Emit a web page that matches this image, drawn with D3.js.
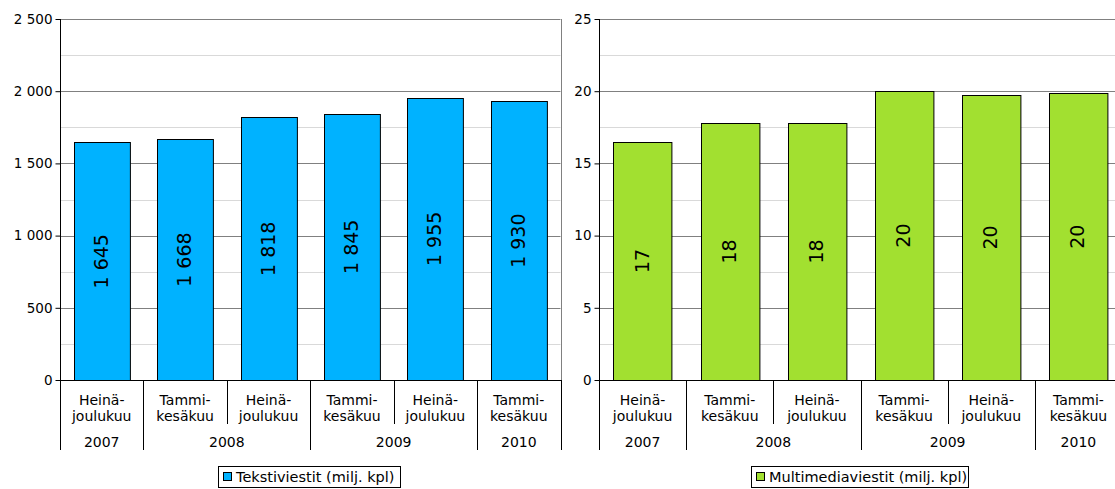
<!DOCTYPE html>
<html>
<head>
<meta charset="utf-8">
<script src="https://cdn.jsdelivr.net/npm/d3@7"></script>
<style>
  body { margin: 0; background: #fff; }
  svg { display: block; font-family: "DejaVu Sans", Verdana, sans-serif; }
</style>
</head>
<body>
<div id="chart"></div>
<script>
const width = 1115;
const height = 489;

// Data
const periods = ["Heinä-\njoulukuu", "Tammi-\nkesäkuu", "Heinä-\njoulukuu", "Tammi-\nkesäkuu", "Heinä-\njoulukuu", "Tammi-\nkesäkuu"];
const years = ["2007", "2008", "2008", "2009", "2009", "2010"];
const textMessages = [1645, 1668, 1818, 1845, 1955, 1930];
const mmsMessages = [16.5, 17.8, 17.8, 20.0, 19.75, 19.85];
const leftTicks = [0, 500, 1000, 1500, 2000, 2500];
const rightTicks = [0, 5, 10, 15, 20, 25];

const fi = d3.formatLocale({ decimal: ",", thousands: "\u00a0", grouping: [3], currency: ["", " €"] });
const fmtInt = fi.format(",.0f");

const svg = d3.select("#chart")
    .append("svg")
    .attr("width", width)
    .attr("height", height);

function panel(opts) {
    const { x0, x1, top, bottom, values, ticks, max, minorStep, color, legend, legendX, legendW } = opts;

    const g = svg.append("g");

    const x = d3.scaleBand()
        .domain(d3.range(values.length))
        .range([x0, x1])
        .paddingInner(0.33)
        .paddingOuter(0.165);
    const step = x.step();

    const y = d3.scaleLinear().domain([0, max]).range([bottom, top]);

    // minor gridlines
    g.append("g")
        .selectAll("line")
        .data(d3.range(minorStep, max, minorStep * 2))
        .join("line")
        .attr("x1", x0).attr("x2", x1)
        .attr("y1", d => Math.round(y(d)) + 0.5).attr("y2", d => Math.round(y(d)) + 0.5)
        .attr("stroke", "#d9d9d9");

    // major gridlines
    g.append("g")
        .selectAll("line")
        .data(ticks.filter(t => t > 0))
        .join("line")
        .attr("x1", x0).attr("x2", x1)
        .attr("y1", d => Math.round(y(d)) + 0.5).attr("y2", d => Math.round(y(d)) + 0.5)
        .attr("stroke", "#808080");

    // plot right border
    g.append("line")
        .attr("x1", Math.round(x1) + 0.5).attr("x2", Math.round(x1) + 0.5)
        .attr("y1", y(max)).attr("y2", bottom)
        .attr("stroke", "#808080");

    // bars
    g.append("g")
        .selectAll("rect")
        .data(values)
        .join("rect")
        .attr("x", (d, i) => Math.round(x(i)) + 0.5)
        .attr("y", d => Math.round(y(d)) + 0.5)
        .attr("width", x.bandwidth())
        .attr("height", d => bottom - Math.round(y(d)))
        .attr("fill", color)
        .attr("stroke", "#000")
        .attr("stroke-width", 1);

    // value labels
    g.append("g")
        .selectAll("text")
        .data(values)
        .join("text")
        .attr("transform", (d, i) => `translate(${x(i) + x.bandwidth() / 2 + 6},${(y(d) + bottom) / 2}) rotate(-90)`)
        .attr("text-anchor", "middle")
        .style("font-size", "19px")
        .attr("fill", "#000")
        .text(d => fmtInt(d));

    // y axis
    const yAxis = g.append("g")
        .attr("transform", `translate(${Math.round(x0) + 0.5},0)`)
        .call(d3.axisLeft(y).tickValues(ticks).tickSize(5).tickPadding(3).tickFormat(fmtInt));
    yAxis.select(".domain").remove();
    yAxis.selectAll(".tick line").attr("stroke", "#000");
    yAxis.selectAll("text")
        .style("font-size", "13.5px")
        .style("font-family", "DejaVu Sans, Verdana, sans-serif")
        .attr("fill", "#000");
    yAxis.append("line")
        .attr("y1", y(max)).attr("y2", bottom + 70)
        .attr("stroke", "#000");

    // x baseline
    g.append("line")
        .attr("x1", x0).attr("x2", x1 + 1)
        .attr("y1", bottom + 0.5).attr("y2", bottom + 0.5)
        .attr("stroke", "#000");

    // category separators
    g.append("g")
        .selectAll("line")
        .data(d3.range(1, values.length + 1))
        .join("line")
        .attr("x1", i => Math.round(x0 + i * step) + 0.5)
        .attr("x2", i => Math.round(x0 + i * step) + 0.5)
        .attr("y1", bottom)
        .attr("y2", i => (i === values.length || years[i] !== years[i - 1]) ? bottom + 70 : bottom + 44)
        .attr("stroke", "#000");

    // period labels
    const cat = g.append("g")
        .selectAll("text")
        .data(periods)
        .join("text")
        .attr("text-anchor", "middle")
        .style("font-size", "14px")
        .attr("fill", "#000");
    cat.each(function (d, i) {
        const lines = d.split("\n");
        d3.select(this).selectAll("tspan")
            .data(lines)
            .join("tspan")
            .attr("x", x(i) + x.bandwidth() / 2)
            .attr("y", (l, j) => bottom + 25 + j * 16)
            .text(l => l);
    });

    // year labels
    const groups = d3.groups(years.map((yr, i) => ({ yr, i })), d => d.yr);
    g.append("g")
        .selectAll("text")
        .data(groups)
        .join("text")
        .attr("x", d => x0 + step * (d3.min(d[1], e => e.i) + d3.max(d[1], e => e.i) + 1) / 2)
        .attr("y", bottom + 67)
        .attr("text-anchor", "middle")
        .style("font-size", "14px")
        .attr("fill", "#000")
        .text(d => d[0]);

    // legend
    const lg = g.append("g").attr("transform", `translate(${legendX},466)`);
    lg.append("rect")
        .attr("x", 0.5).attr("y", 0.5)
        .attr("width", legendW).attr("height", 21)
        .attr("fill", "#fff").attr("stroke", "#000");
    lg.append("rect")
        .attr("x", 5.5).attr("y", 6.5)
        .attr("width", 8).attr("height", 8)
        .attr("fill", color).attr("stroke", "#000");
    lg.append("text")
        .attr("x", 18).attr("y", 16)
        .style("font-size", "14.5px")
        .attr("fill", "#000")
        .text(legend);
}

panel({
    x0: 60, x1: 560.5, top: 19, bottom: 380,
    values: textMessages, ticks: leftTicks, max: 2500, minorStep: 250,
    color: "#00b2ff", legend: "Tekstiviestit (milj. kpl)", legendX: 218, legendW: 182
});

panel({
    x0: 599, x1: 1122, top: 19, bottom: 380,
    values: mmsMessages, ticks: rightTicks, max: 25, minorStep: 2.5,
    color: "#a2e030", legend: "Multimediaviestit (milj. kpl)", legendX: 751, legendW: 217
});
</script>
</body>
</html>
